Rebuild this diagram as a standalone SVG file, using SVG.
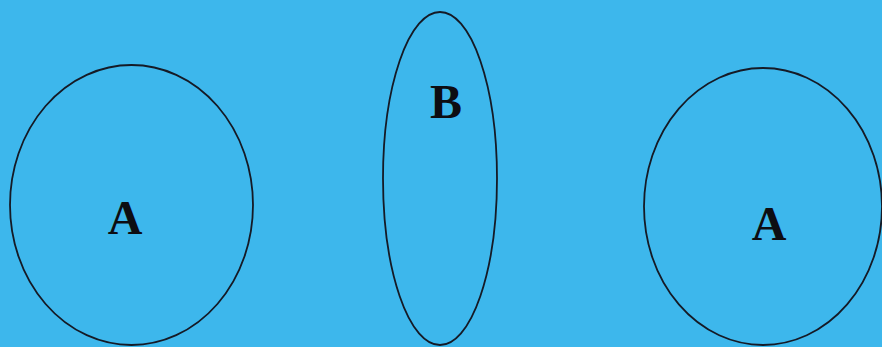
<svg xmlns="http://www.w3.org/2000/svg" width="882" height="347" viewBox="0 0 882 347">
<style>
.shape{fill:none;stroke:#151a26;stroke-width:1.8}
.lbl{font-family:"Liberation Serif","Times New Roman",serif;font-weight:bold;font-size:48px;fill:#0d0d12;text-anchor:middle}
</style>
<rect width="882" height="347" fill="#3db7ec"/>
<g id="nodeA1"><ellipse class="shape" cx="131.5" cy="205" rx="121.5" ry="140"/><text class="lbl" x="125" y="234">A</text></g>
<g id="nodeB"><ellipse class="shape" cx="440" cy="178.5" rx="57" ry="166.5"/><text class="lbl" x="446" y="118">B</text></g>
<g id="nodeA2"><ellipse class="shape" cx="763" cy="206.5" rx="119" ry="138.5"/><text class="lbl" x="769" y="240">A</text></g>
<g id="connectors"></g>
</svg>
